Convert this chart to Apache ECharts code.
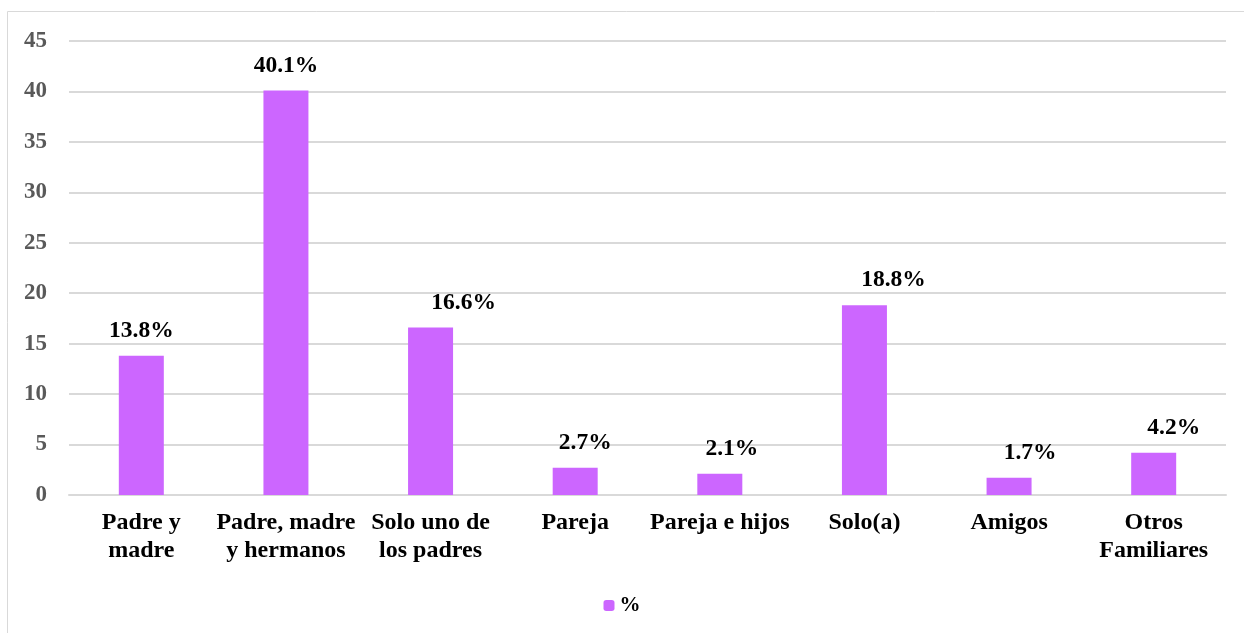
<!DOCTYPE html>
<html>
<head>
<meta charset="utf-8">
<script src="https://cdn.jsdelivr.net/npm/echarts@6/dist/echarts.min.js"></script>
<style>
  html, body { margin: 0; padding: 0; background: #fff; overflow: hidden; }
  #chart { width: 1244px; height: 633px; }
</style>
</head>
<body>
<div id="chart"></div>
<script>
// categorias y valores (%)
var categories = ['Padre y\nmadre', 'Padre, madre\ny hermanos', 'Solo uno de\nlos padres', 'Pareja', 'Pareja e hijos', 'Solo(a)', 'Amigos', 'Otros\nFamiliares']
var values = [13.8, 40.1, 16.6, 2.7, 2.1, 18.8, 1.7, 4.2]
var yTicks = [0, 5, 10, 15, 20, 25, 30, 35, 40, 45]

// desplazamiento horizontal de las etiquetas (movidas a mano en el original)
var labelShift = [0, 0, 33, 10, 12, 29, 21, 20]

var chart = echarts.init(document.getElementById('chart'))
var serif = '"Liberation Serif", "Times New Roman", serif'

var option = {
  animation: false,
  textStyle: { fontFamily: serif },
  graphic: [{
    type: 'rect',
    shape: { x: 7.5, y: 11.5, width: 1300, height: 700 },
    style: { fill: 'none', stroke: '#D9D9D9', lineWidth: 1 },
    silent: true
  }],
  grid: { left: 69, right: 18, top: 41, bottom: 138 },
  legend: {
    top: 590,
    left: 'center',
    itemWidth: 11,
    itemHeight: 11,
    itemGap: 6,
    textStyle: { fontFamily: serif, fontWeight: 'bold', fontSize: 21, color: '#000' },
    data: ['%']
  },
  xAxis: {
    type: 'category',
    data: categories,
    axisLine: { show: true, lineStyle: { color: '#D9D9D9', width: 2 } },
    axisTick: { show: false },
    axisLabel: {
      interval: 0,
      margin: 14,
      fontFamily: serif,
      fontWeight: 'bold',
      fontSize: 24,
      lineHeight: 28,
      color: '#000'
    }
  },
  yAxis: {
    type: 'value',
    min: yTicks[0],
    max: yTicks[yTicks.length - 1],
    interval: 5,
    axisLine: { show: false },
    axisTick: { show: false },
    splitLine: { lineStyle: { color: '#D9D9D9', width: 2 } },
    axisLabel: {
      margin: 22,
      fontFamily: serif,
      fontWeight: 'bold',
      fontSize: 23,
      color: '#595959'
    }
  },
  series: [{
    name: '%',
    type: 'bar',
    barWidth: 45,
    itemStyle: { color: '#CC66FF' },
    data: values.map(function (v, i) {
      return {
        value: v,
        label: { offset: [labelShift[i], 0] }
      }
    }),
    label: {
      show: true,
      position: 'top',
      distance: 13,
      fontFamily: serif,
      fontWeight: 'bold',
      fontSize: 23.5,
      color: '#000',
      formatter: function (p) { return p.value.toFixed(1) + '%' }
    }
  }]
}

chart.setOption(option)
</script>
</body>
</html>
